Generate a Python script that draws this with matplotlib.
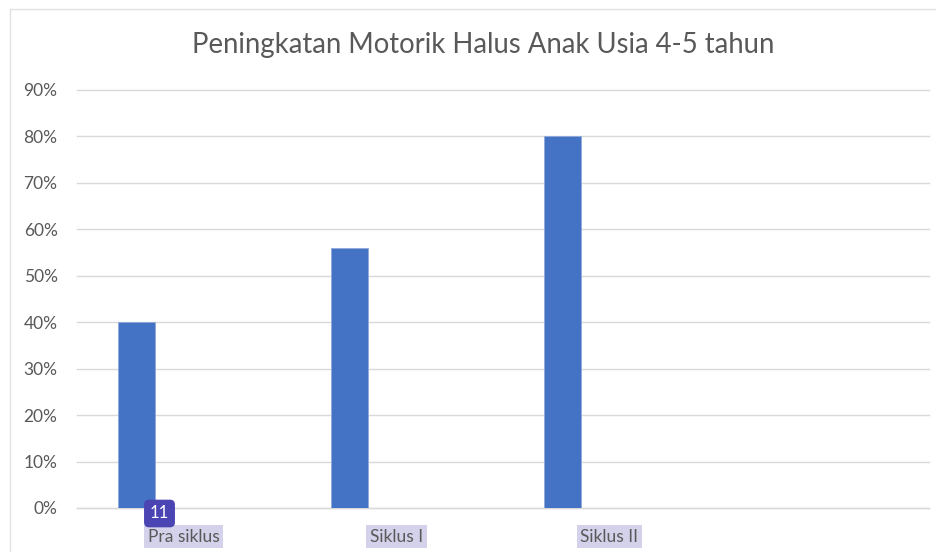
import matplotlib
matplotlib.use("Agg")
import matplotlib.pyplot as plt
from matplotlib.lines import Line2D
from matplotlib.ticker import PercentFormatter
import numpy as np

categories = ["Pra siklus", "Siklus I", "Siklus II", ""]
values = [0.40, 0.56, 0.80]
y_ticks = [0.0, 0.1, 0.2, 0.3, 0.4, 0.5, 0.6, 0.7, 0.8, 0.9]
title = "Peningkatan Motorik Halus Anak Usia 4-5 tahun"
badge_text = "11"

W, H = 937, 552
fig = plt.figure(figsize=(W / 100, H / 100), dpi=100)
fig.patch.set_facecolor("white")

# plot area in pixels: x 77..929, y 90..508
ax = fig.add_axes([77 / W, (H - 508) / H, (929 - 77) / W, (508 - 90) / H])

text_color = "#595959"
grid_color = "#d9d9d9"
bar_color = "#4472c4"

x = np.arange(len(values))
ax.bar(x - 0.22, values, width=0.174, color=bar_color, edgecolor="#8ea9db",
       linewidth=0.6, zorder=3)

ax.set_xlim(-0.5, len(categories) - 0.5)
ax.set_ylim(0, 0.9)
ax.set_yticks(y_ticks)
ax.yaxis.set_major_formatter(PercentFormatter(1.0, decimals=0))
ax.grid(axis="y", color=grid_color, linewidth=1.0, zorder=0)
for line in ax.get_ygridlines():
    line.set_clip_on(False)

for s in ["top", "right", "left"]:
    ax.spines[s].set_visible(False)
ax.spines["bottom"].set_color(grid_color)
ax.spines["bottom"].set_linewidth(1.0)

ax.tick_params(axis="y", length=0, pad=14, labelsize=12.5, labelcolor=text_color)
ax.tick_params(axis="x", length=0, pad=15, labelsize=12.5, labelcolor=text_color)
for lab in ax.get_yticklabels():
    lab.set_fontfamily("Lato")

ax.set_xticks(np.arange(len(categories)))
ax.set_xticklabels(categories, fontfamily="Lato")
for lab in ax.get_xticklabels():
    if lab.get_text():
        lab.set_bbox(dict(facecolor="#d4d1ea", edgecolor="none", pad=2.5))

fig.text(483 / W, 1 - 45 / H, title, ha="center", va="center",
         fontsize=19.8, color=text_color, fontfamily="Lato")

# badge over the first category label
fig.text(159.5 / W, 1 - 513.5 / H, badge_text, ha="center", va="center",
         fontsize=12, color="white", fontfamily="Lato",
         bbox=dict(boxstyle="round,pad=0.35,rounding_size=0.3",
                   facecolor="#4b45b4", edgecolor="none"))

# outer chart border (top and left only visible)
fig.add_artist(Line2D([10 / W, 1], [1 - 9 / H, 1 - 9 / H], color="#e3e3e3", linewidth=1.0))
fig.add_artist(Line2D([10 / W, 10 / W], [0, 1 - 9 / H], color="#e3e3e3", linewidth=1.0))

fig.savefig("out.png", dpi=100)
